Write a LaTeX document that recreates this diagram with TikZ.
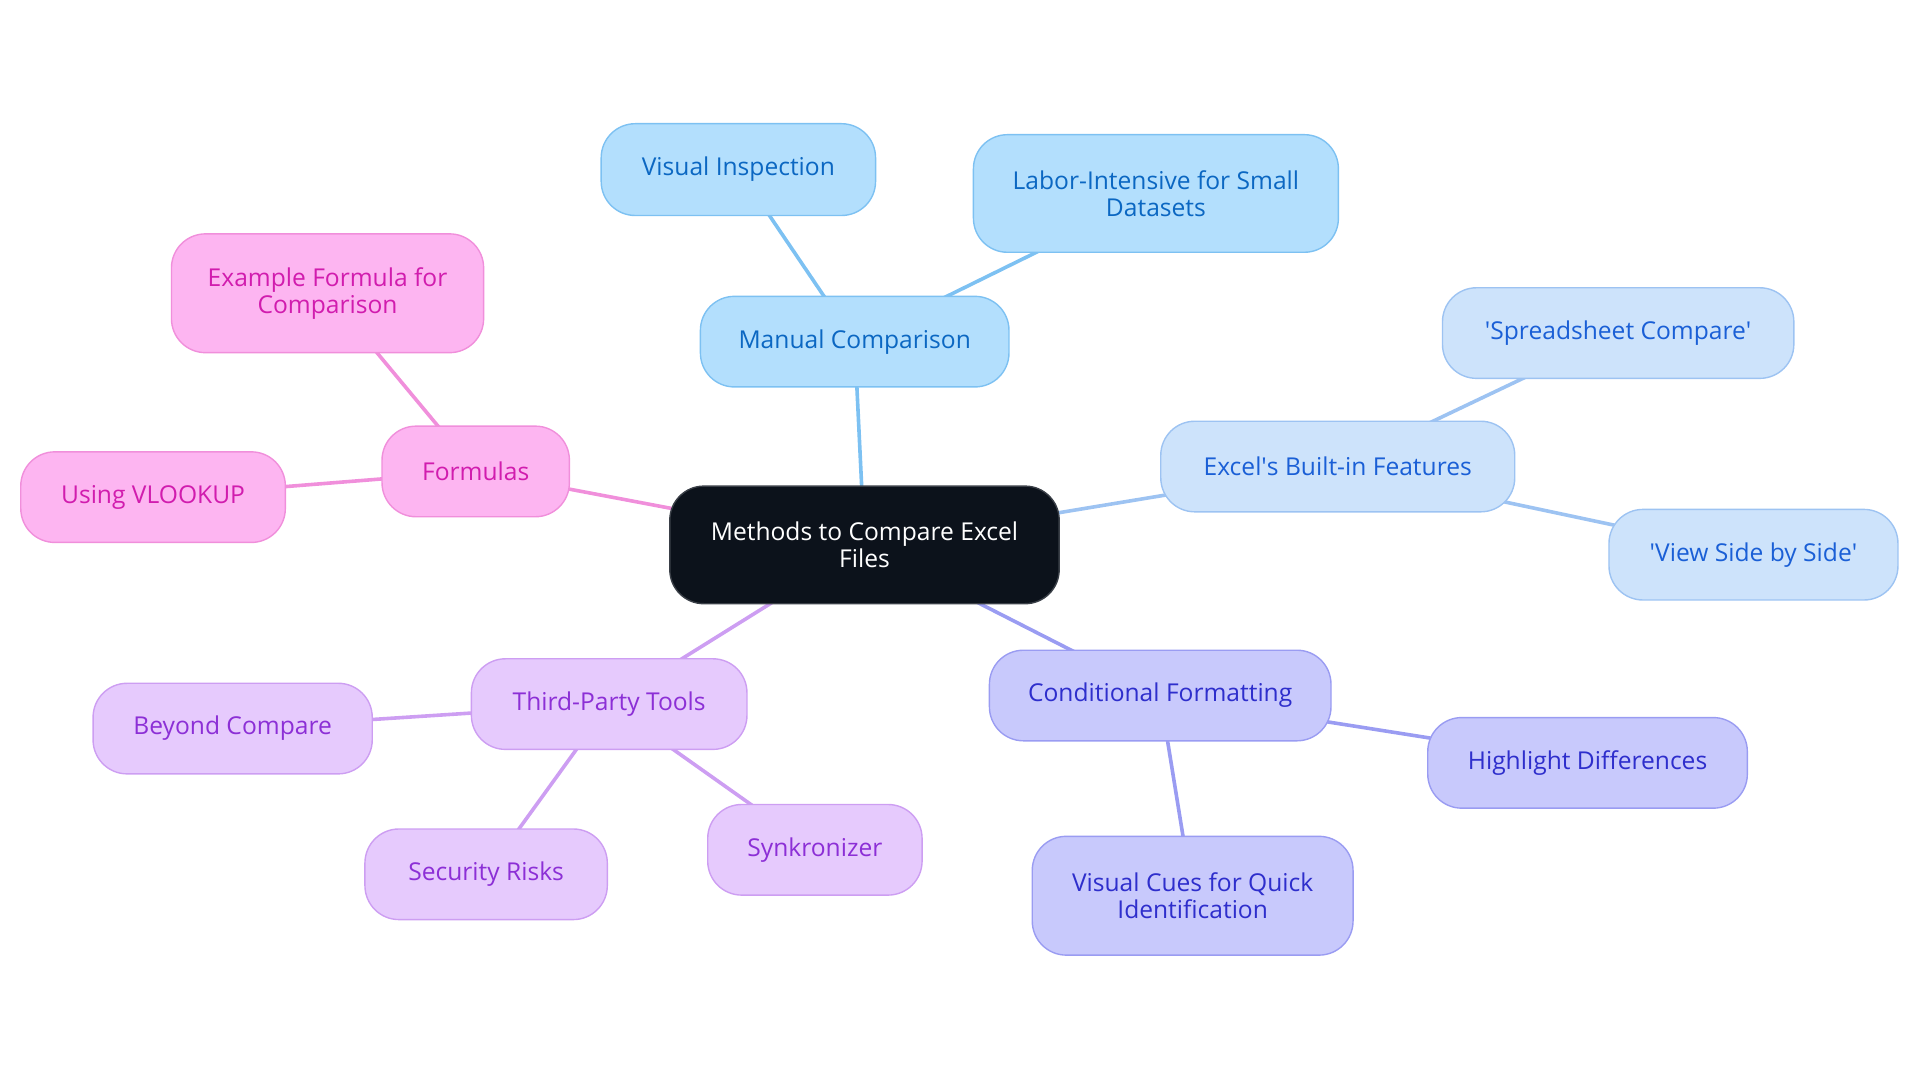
\documentclass[tikz,border=0pt]{standalone}
\usepackage{fontspec}
\setmainfont{Open Sans}
\usetikzlibrary{backgrounds}
\definecolor{cfill}{HTML}{0C121B}
\definecolor{cdraw}{HTML}{3A3F47}
\definecolor{bAfill}{HTML}{B3DFFD}
\definecolor{bAdraw}{HTML}{7DC1F2}
\definecolor{bAtext}{HTML}{0B67C2}
\definecolor{bBfill}{HTML}{CDE3FB}
\definecolor{bBdraw}{HTML}{9DC3F2}
\definecolor{bBtext}{HTML}{1A5FD6}
\definecolor{inFill}{HTML}{C8C9FC}
\definecolor{inDraw}{HTML}{9A9CF2}
\definecolor{inText}{HTML}{2E2ECC}
\definecolor{puFill}{HTML}{E6CAFD}
\definecolor{puDraw}{HTML}{CD9EF2}
\definecolor{puText}{HTML}{8C2FD6}
\definecolor{piFill}{HTML}{FDB5F1}
\definecolor{piDraw}{HTML}{F08FDB}
\definecolor{piText}{HTML}{D11CAE}
\tikzset{
  x=0.6123pt, y=-0.6123pt,
  box/.style={rectangle, rounded corners=17pt, line width=0.7pt, align=center,
    inner sep=0pt, font=\fontsize{12.3}{13.6}\selectfont},
  rootbox/.style={box, fill=cfill, draw=cdraw, text=white},
  blueA/.style={box, fill=bAfill, draw=bAdraw, text=bAtext},
  blueB/.style={box, fill=bBfill, draw=bBdraw, text=bBtext},
  indig/.style={box, fill=inFill, draw=inDraw, text=inText},
  purp/.style={box, fill=puFill, draw=puDraw, text=puText},
  pink/.style={box, fill=piFill, draw=piDraw, text=piText},
  edge/.style={line width=1.8pt},
}
\begin{document}
\begin{tikzpicture}
\useasboundingbox (0,0) rectangle (1568,884.4);
% root
\node[rootbox, minimum width=194.7pt, minimum height=58.8pt] (root) at (706,445) {Methods to Compare Excel\\Files};
% manual comparison
\node[blueA, minimum width=154.3pt, minimum height=45.3pt] (man) at (698,279) {Manual Comparison};
\node[blueA, minimum width=137.2pt, minimum height=45.9pt] (vis) at (603,138.5) {Visual Inspection};
\node[blueA, minimum width=182.5pt, minimum height=58.8pt] (lab) at (944,158) {Labor-Intensive for Small\\Datasets};
% excel built-in
\node[blueB, minimum width=177.0pt, minimum height=45.3pt] (exf) at (1092.5,381) {Excel\textquotesingle s Built-in Features};
\node[blueB, minimum width=175.7pt, minimum height=45.3pt] (ssc) at (1321.5,272) {\textquotesingle Spreadsheet Compare\textquotesingle};
\node[blueB, minimum width=144.5pt, minimum height=45.3pt] (vsb) at (1432,453) {\textquotesingle View Side by Side\textquotesingle};
% conditional formatting
\node[indig, minimum width=170.8pt, minimum height=45.3pt] (cnd) at (947.5,568) {Conditional Formatting};
\node[indig, minimum width=159.8pt, minimum height=45.3pt] (hld) at (1296.5,623) {Highlight Differences};
\node[indig, minimum width=160.4pt, minimum height=59.4pt] (vcq) at (974,731.5) {Visual Cues for Quick\\Identification};
% third-party
\node[purp, minimum width=137.8pt, minimum height=45.3pt] (tpt) at (497.5,575) {Third-Party Tools};
\node[purp, minimum width=139.6pt, minimum height=45.3pt] (bcp) at (190,595) {Beyond Compare};
\node[purp, minimum width=121.2pt, minimum height=45.3pt] (sec) at (397,714) {Security Risks};
\node[purp, minimum width=107.2pt, minimum height=45.3pt] (syn) at (665.5,694) {Synkronizer};
% formulas
\node[pink, minimum width=93.7pt, minimum height=45.3pt] (frm) at (388.5,385) {Formulas};
\node[pink, minimum width=156.1pt, minimum height=59.4pt] (exm) at (267.5,239.5) {Example Formula for\\Comparison};
\node[pink, minimum width=132.3pt, minimum height=45.3pt] (vlk) at (125,406) {Using VLOOKUP};
\begin{scope}[on background layer]
\draw[edge, bAdraw] (root.center) -- (man.center);
\draw[edge, bAdraw] (man.center) -- (vis.center);
\draw[edge, bAdraw] (man.center) -- (lab.center);
\draw[edge, bBdraw] (root.center) -- (exf.center);
\draw[edge, bBdraw] (exf.center) -- (ssc.center);
\draw[edge, bBdraw] (exf.center) -- (vsb.center);
\draw[edge, inDraw] (root.center) -- (cnd.center);
\draw[edge, inDraw] (cnd.center) -- (hld.center);
\draw[edge, inDraw] (cnd.center) -- (vcq.center);
\draw[edge, puDraw] (root.center) -- (tpt.center);
\draw[edge, puDraw] (tpt.center) -- (bcp.center);
\draw[edge, puDraw] (tpt.center) -- (sec.center);
\draw[edge, puDraw] (tpt.center) -- (syn.center);
\draw[edge, piDraw] (root.center) -- (frm.center);
\draw[edge, piDraw] (frm.center) -- (exm.center);
\draw[edge, piDraw] (frm.center) -- (vlk.center);
\end{scope}
\end{tikzpicture}
\end{document}
